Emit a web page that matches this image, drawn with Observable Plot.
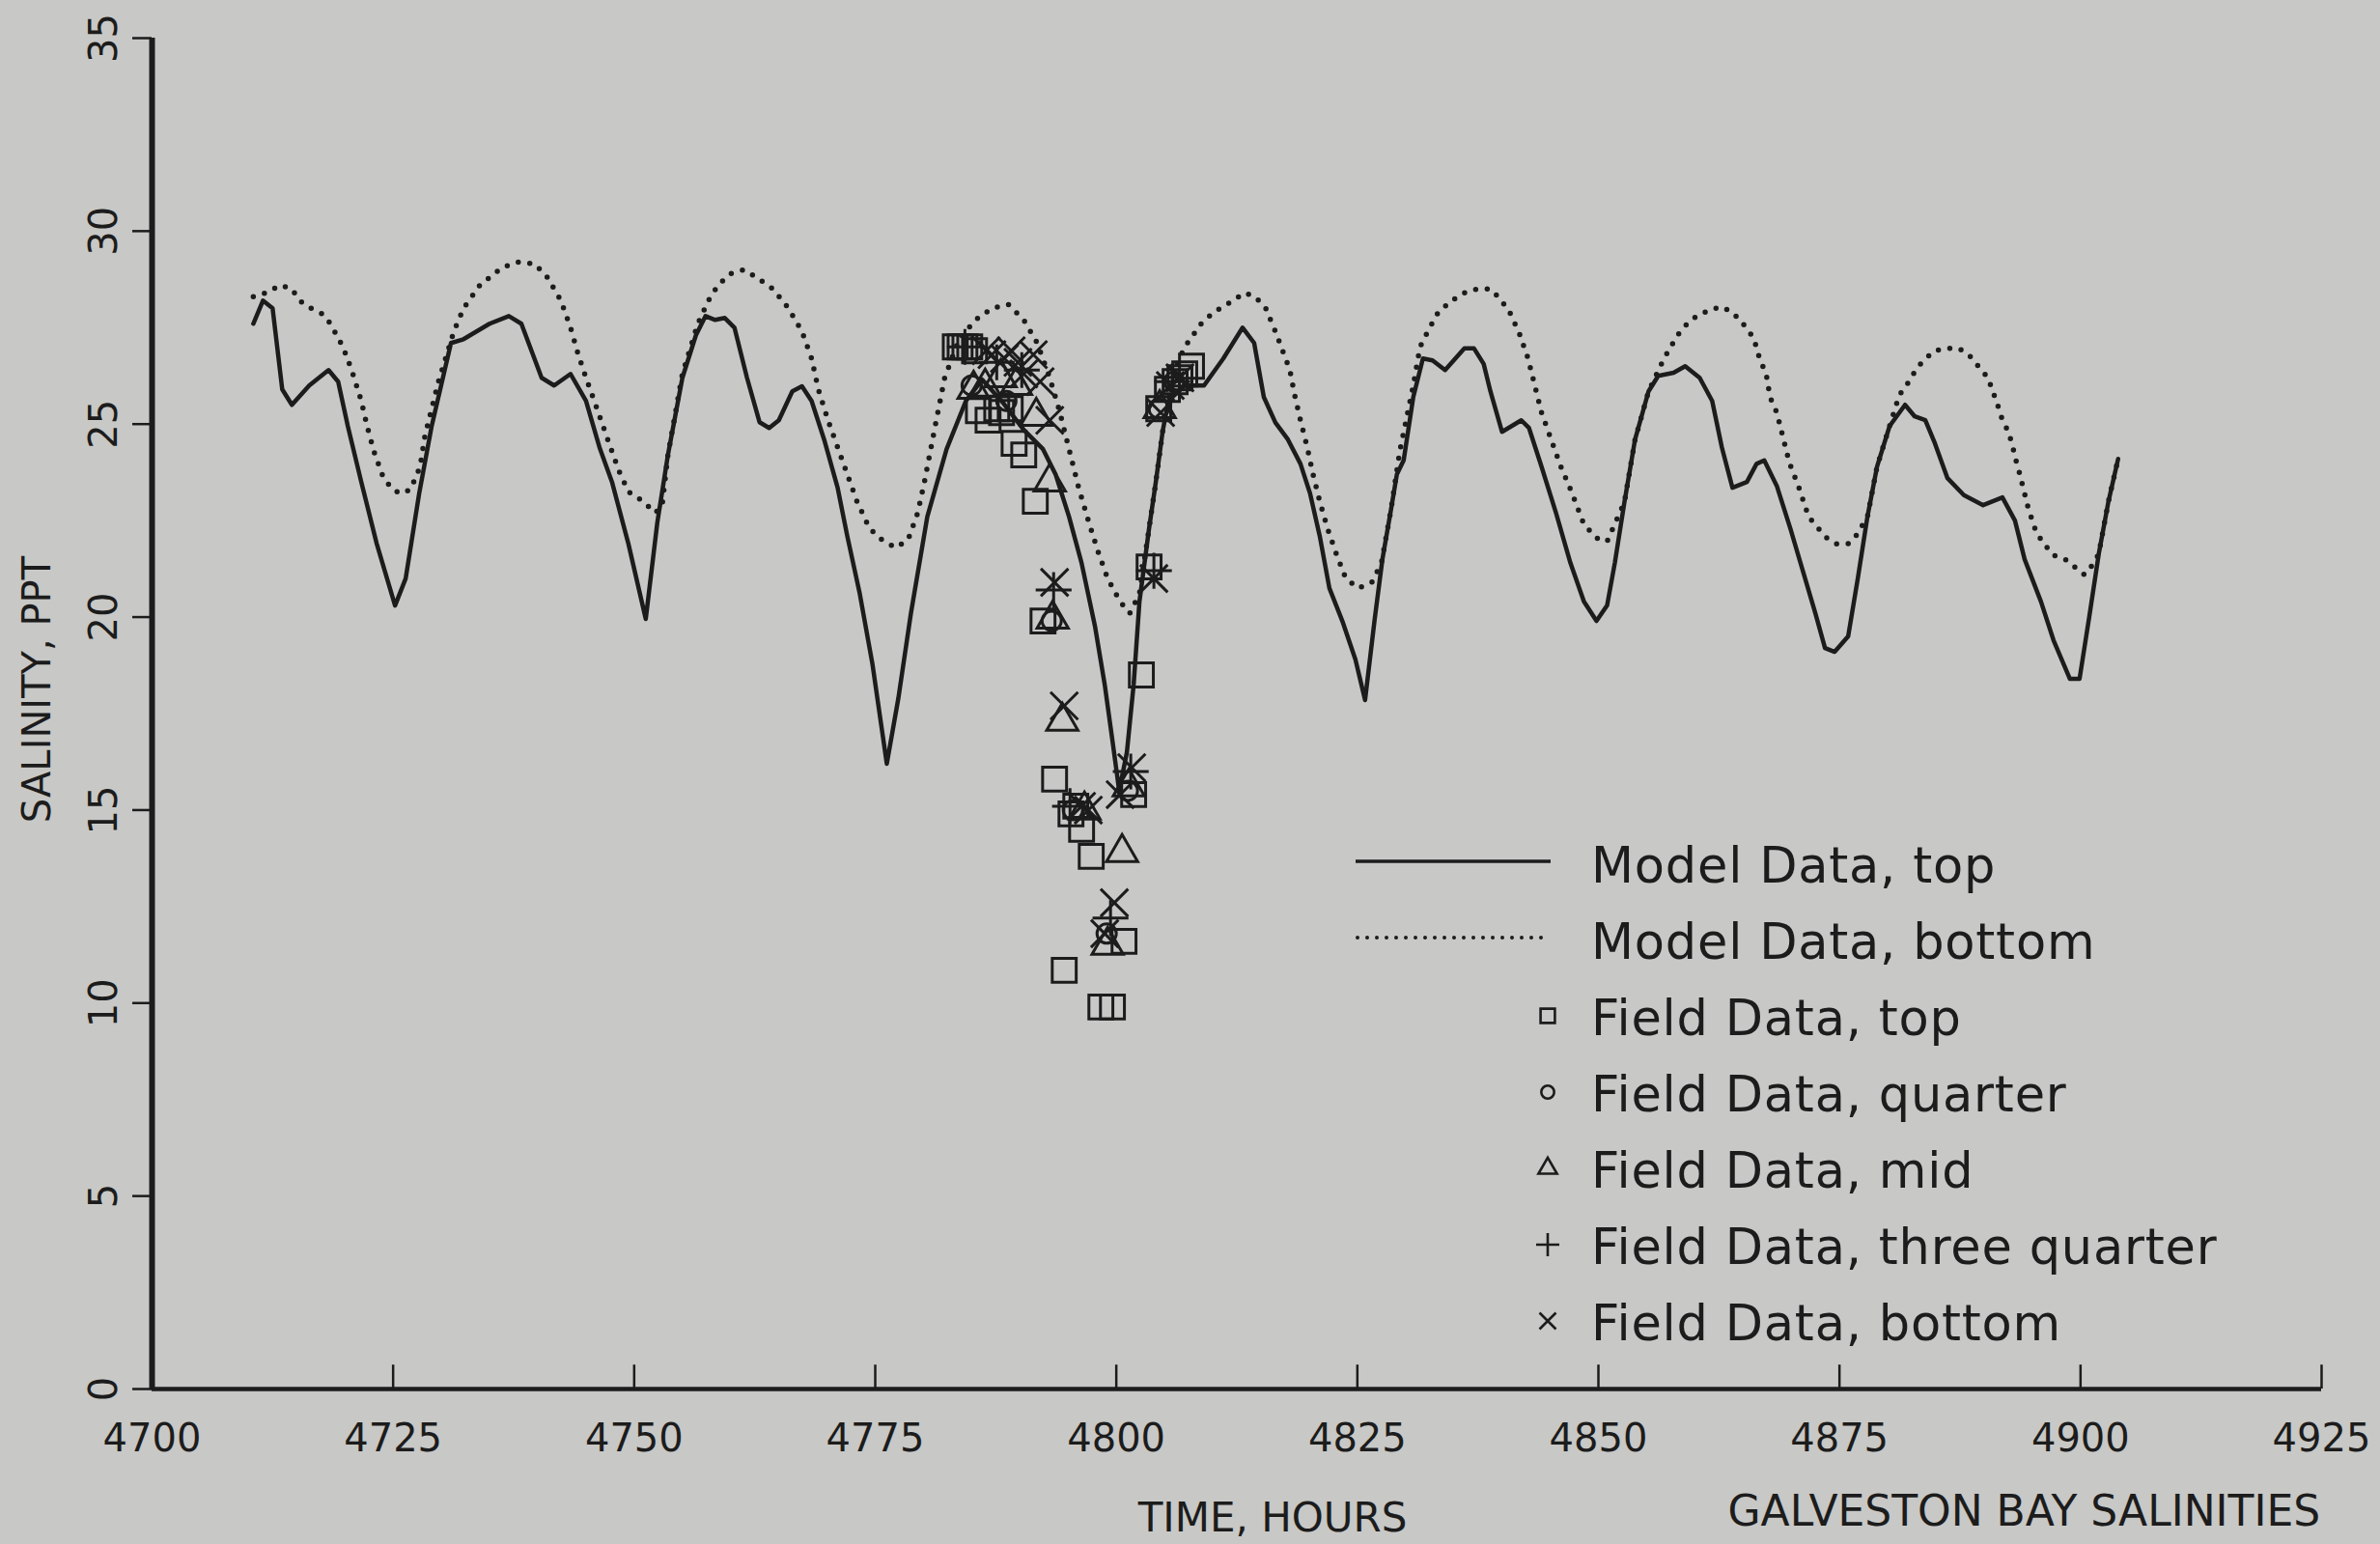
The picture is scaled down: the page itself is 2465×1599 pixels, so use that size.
<!DOCTYPE html>
<html>
<head>
<meta charset="utf-8">
<script src="https://cdn.jsdelivr.net/npm/d3@7"></script>
<script src="https://cdn.jsdelivr.net/npm/@observablehq/plot@0.6"></script>
<style>
  html, body { margin: 0; padding: 0; background: #c8c8c6; overflow: hidden; width: 2465px; height: 1599px; }
  #wrap { position: relative; width: 2465px; height: 1599px; }
  #wrap svg { position: absolute; left: 0; top: 0; }
</style>
</head>
<body>
<div id="wrap"></div>
<script>
// ---------------- DATA ----------------
const xTicks = [4700, 4725, 4750, 4775, 4800, 4825, 4850, 4875, 4900, 4925];
const yTicks = [0, 5, 10, 15, 20, 25, 30, 35];

const modelTopHours = [4710.5,4711.5,4712.5,4713.5,4714.5,4716.3,4718.3,4719.3,4720.3,4721.7,4723.3,4725.2,4726.3,4727.7,4729.0,4731.0,4732.3,4735.0,4737.0,4738.3,4740.4,4741.7,4743.4,4745.0,4746.4,4747.7,4749.4,4751.2,4752.4,4753.5,4755.0,4756.4,4757.4,4758.4,4759.4,4760.4,4761.7,4763.0,4764.0,4765.0,4766.4,4767.4,4768.4,4769.7,4771.1,4772.1,4773.4,4774.7,4776.2,4777.4,4778.7,4780.4,4782.4,4784.4,4786.1,4788.1,4790.4,4792.4,4793.7,4795.1,4796.4,4797.8,4798.8,4799.6,4800.3,4801.1,4801.8,4802.4,4803.4,4804.1,4804.8,4805.4,4807.1,4809.1,4811.1,4813.1,4814.3,4815.3,4816.5,4817.8,4819.1,4820.1,4821.1,4822.1,4823.5,4824.8,4825.8,4826.8,4827.6,4828.5,4829.1,4829.8,4830.8,4831.8,4832.8,4834.1,4836.1,4837.1,4838.1,4838.8,4840.0,4842.0,4842.8,4844.1,4845.6,4847.1,4848.5,4849.8,4850.9,4851.7,4852.7,4853.8,4855.2,4856.2,4857.8,4859.0,4860.5,4861.8,4862.8,4863.9,4865.4,4866.4,4867.2,4868.5,4869.9,4871.2,4872.5,4873.5,4874.5,4875.9,4876.9,4877.9,4878.9,4880.2,4881.8,4882.8,4883.9,4884.9,4886.2,4887.9,4889.9,4891.9,4893.2,4894.2,4895.9,4897.2,4898.9,4899.9,4900.9,4901.9,4902.9,4903.9];
const modelTopSalinity = [27.6,28.2,28.0,25.9,25.5,26.0,26.4,26.1,24.95,23.5,21.9,20.3,21.0,23.2,24.95,27.1,27.2,27.6,27.8,27.6,26.2,26.0,26.3,25.6,24.4,23.5,21.9,19.95,22.45,24.2,26.2,27.3,27.8,27.7,27.75,27.5,26.2,25.05,24.9,25.1,25.85,25.98,25.6,24.6,23.35,22.1,20.6,18.8,16.2,17.9,20.1,22.6,24.35,25.6,26.15,25.6,24.85,24.35,23.7,22.6,21.4,19.75,18.25,16.8,15.5,16.5,18.25,20.4,22.3,23.5,24.8,25.6,26.0,26.0,26.7,27.5,27.1,25.7,25.04,24.6,23.97,23.2,22.1,20.75,19.86,18.9,17.85,19.95,21.5,22.8,23.7,24.06,25.7,26.7,26.65,26.4,26.96,26.96,26.56,25.85,24.8,25.1,24.9,23.9,22.7,21.4,20.4,19.9,20.3,21.4,22.98,24.6,25.85,26.25,26.33,26.5,26.2,25.6,24.4,23.35,23.5,23.97,24.06,23.4,22.3,21.2,20.1,19.2,19.1,19.5,21.0,22.6,23.9,24.95,25.5,25.2,25.1,24.5,23.6,23.16,22.9,23.1,22.5,21.5,20.4,19.4,18.4,18.4,20.0,21.65,23.0,24.1];

const modelBottomHours = [4710.5,4711.8,4713.3,4714.5,4715.3,4716.5,4717.7,4718.5,4719.8,4720.7,4721.7,4722.3,4723.0,4724.0,4725.0,4725.8,4726.8,4727.8,4728.3,4729.7,4731.3,4732.3,4734.0,4736.3,4738.0,4739.7,4741.0,4742.4,4743.4,4744.2,4745.0,4746.0,4747.4,4748.4,4749.4,4750.9,4752.2,4752.9,4753.5,4755.0,4756.6,4757.7,4758.7,4760.0,4761.4,4762.7,4764.4,4766.0,4767.4,4768.4,4769.1,4770.1,4771.1,4772.1,4773.1,4774.4,4775.7,4777.1,4778.4,4779.4,4780.1,4781.1,4782.2,4783.7,4785.4,4787.1,4788.8,4790.4,4791.8,4793.1,4794.1,4795.1,4796.1,4797.1,4798.1,4799.1,4800.4,4801.4,4802.4,4803.4,4804.1,4804.8,4805.4,4806.2,4807.1,4808.8,4810.1,4810.8,4812.1,4813.3,4814.4,4815.5,4816.5,4817.1,4818.0,4818.5,4819.1,4819.8,4820.4,4821.1,4821.9,4822.8,4823.8,4825.1,4826.5,4827.5,4828.5,4829.4,4830.8,4831.5,4832.4,4833.4,4834.8,4836.1,4837.4,4838.8,4839.8,4840.8,4841.8,4842.7,4843.3,4844.1,4845.1,4846.1,4847.2,4848.5,4849.8,4850.9,4851.5,4852.7,4853.8,4855.2,4856.8,4858.2,4859.2,4860.2,4861.5,4862.7,4863.9,4865.0,4865.9,4866.4,4866.7,4867.4,4867.8,4868.5,4869.2,4869.8,4870.8,4871.8,4872.8,4873.7,4874.7,4875.9,4876.7,4877.9,4878.9,4880.2,4881.2,4882.2,4882.9,4883.7,4884.9,4886.2,4887.4,4888.4,4889.4,4890.4,4890.9,4891.4,4891.9,4892.4,4892.9,4893.2,4893.6,4894.2,4894.6,4895.4,4896.2,4897.2,4898.4,4899.4,4900.4,4901.4,4901.9,4902.9,4903.9];
const modelBottomSalinity = [28.3,28.4,28.6,28.5,28.2,28.0,27.85,27.6,27.0,26.4,25.6,24.95,24.3,23.6,23.3,23.2,23.3,23.9,24.7,26.1,27.4,28.0,28.6,29.06,29.2,29.15,28.8,28.2,27.5,26.8,26.2,25.5,24.5,23.8,23.25,23.0,22.7,22.9,24.2,26.3,27.6,28.2,28.6,28.9,29.0,28.8,28.5,28.0,27.4,26.7,25.9,25.1,24.4,23.7,23.0,22.3,22.0,21.8,22.0,22.7,23.5,24.8,26.2,27.2,27.7,28.0,28.1,27.7,27.1,26.2,25.35,24.35,23.35,22.5,21.7,21.0,20.4,20.1,20.6,22.3,23.5,24.8,25.6,26.5,27.0,27.6,27.9,28.0,28.2,28.4,28.3,28.0,27.4,27.0,26.4,25.75,25.1,24.4,23.7,23.0,22.3,21.65,21.0,20.75,20.9,21.4,22.8,24.3,26.0,27.0,27.45,27.9,28.2,28.4,28.5,28.5,28.25,27.9,27.35,26.7,26.1,25.3,24.6,23.9,23.25,22.4,22.05,21.96,22.3,22.98,24.6,25.85,26.7,27.3,27.6,27.8,27.95,28.04,27.9,27.6,27.3,27.0,26.7,26.3,25.7,25.3,24.6,24.0,23.35,22.6,22.3,22.05,21.9,21.9,22.1,22.6,23.9,24.95,25.75,26.1,26.4,26.65,26.9,26.96,26.96,26.8,26.5,26.2,25.85,25.5,25.1,24.86,24.5,24.15,23.8,23.2,22.8,22.2,21.9,21.6,21.5,21.3,21.1,21.4,21.65,23.0,24.1];

const fieldTopHours = [4783.3,4783.8,4784.3,4784.8,4785.3,4785.7,4786.7,4787.6,4788.1,4789.0,4789.4,4790.4,4791.6,4792.4,4793.6,4794.6,4795.3,4795.8,4796.4,4797.4,4798.4,4799.6,4800.8,4801.8,4802.6,4803.4,4804.4,4805.3,4806.1,4806.6,4807.1,4807.8];
const fieldTopSalinity = [27.0,27.0,27.0,27.0,26.9,25.35,25.1,25.4,25.3,25.4,24.5,24.2,23.0,19.9,15.8,10.85,14.9,15.1,14.5,13.8,9.9,9.9,11.6,15.4,18.5,21.3,25.4,25.9,26.1,26.2,26.3,26.5];

const fieldQuarterHours = [4785.0,4788.6,4793.3,4795.5,4799.0,4801.2,4804.4,4806.0];
const fieldQuarterSalinity = [26.0,25.6,19.9,15.0,11.8,15.5,25.4,26.1];

const fieldMidHours = [4785.2,4786.4,4788.0,4789.6,4791.7,4793.1,4793.4,4794.4,4796.7,4799.1,4800.6,4801.3,4804.5];
const fieldMidSalinity = [25.9,25.96,26.2,26.0,25.2,23.5,19.95,17.3,15.0,11.5,13.9,15.6,25.4];

const fieldThreeQuarterHours = [4784.3,4787.6,4790.2,4793.5,4795.2,4799.4,4801.5,4803.9,4805.8];
const fieldThreeQuarterSalinity = [27.0,26.6,26.4,20.7,15.1,12.2,16.0,21.2,26.1];

const fieldBottomHours = [4786.5,4787.1,4788.4,4789.1,4789.8,4790.4,4791.4,4792.1,4793.1,4793.6,4794.6,4796.4,4797.1,4798.8,4799.8,4800.4,4801.6,4803.9,4804.6,4805.6,4806.6];
const fieldBottomSalinity = [26.9,26.8,26.7,26.9,26.6,26.3,26.8,26.1,25.1,20.9,17.7,15.1,15.0,11.8,12.6,15.4,16.1,21.0,25.3,26.0,26.2];

const legendLabels = ["Model Data, top", "Model Data, bottom", "Field Data, top", "Field Data, quarter", "Field Data, mid", "Field Data, three quarter", "Field Data, bottom"];

// ---------------- BUILD ----------------
const zip = (hs, vs) => hs.map((h, i) => ({hour: h, salinity: vs[i]}));
const modelTop = zip(modelTopHours, modelTopSalinity);
const modelBottom = zip(modelBottomHours, modelBottomSalinity);
const fieldTop = zip(fieldTopHours, fieldTopSalinity);
const fieldQuarter = zip(fieldQuarterHours, fieldQuarterSalinity);
const fieldMid = zip(fieldMidHours, fieldMidSalinity);
const fieldThreeQuarter = zip(fieldThreeQuarterHours, fieldThreeQuarterSalinity);
const fieldBottom = zip(fieldBottomHours, fieldBottomSalinity);

const ink = "#1c1c1c";
const xTickLength = 0.62; // salinity units (inner tick on x axis)
const dotOpts = {x: "hour", y: "salinity", fill: "none", stroke: ink, strokeWidth: 3};

const chart = Plot.plot({
  width: 2465, height: 1599,
  marginLeft: 157, marginRight: 61, marginTop: 39, marginBottom: 161,
  style: {background: "transparent", color: ink, fontFamily: "'DejaVu Sans', sans-serif"},
  x: {domain: [4700, 4925]},
  y: {domain: [0, 35]},
  marks: [
    Plot.axisY({ticks: yTicks, tickSize: 20, tickPadding: 17, tickRotate: -90, fontSize: 40, label: null, strokeWidth: 2.5, tickFormat: d => String(d)}),
    Plot.axisX({ticks: xTicks, tickSize: 0, tickPadding: 36, fontSize: 40, label: null, tickFormat: d => String(d)}),
    Plot.ruleX(xTicks.slice(1), {y1: 0, y2: xTickLength, stroke: ink, strokeWidth: 2.5}),
    Plot.ruleX([4700], {y1: 0, y2: 35, stroke: ink, strokeWidth: 6}),
    Plot.ruleY([0], {x1: 4700, x2: 4925, stroke: ink, strokeWidth: 4.5}),
    Plot.line(modelBottom, {x: "hour", y: "salinity", stroke: ink, strokeWidth: 5.5, strokeDasharray: "0 12", strokeLinecap: "round"}),
    Plot.line(modelTop, {x: "hour", y: "salinity", stroke: ink, strokeWidth: 4.5, strokeLinejoin: "round"}),
    Plot.dot(fieldTop, {...dotOpts, symbol: "square", r: 14}),
    Plot.dot(fieldQuarter, {...dotOpts, symbol: "circle", r: 10}),
    Plot.dot(fieldMid, {...dotOpts, symbol: "triangle", r: 12}),
    Plot.dot(fieldThreeQuarter, {...dotOpts, symbol: "plus", r: 12}),
    Plot.dot(fieldBottom, {...dotOpts, symbol: "times", r: 13}),
    Plot.text(["SALINITY, PPT"], {frameAnchor: "left", rotate: -90, textAnchor: "middle", dx: -118, dy: -25, fontSize: 40, letterSpacing: 3, fill: ink}),
    Plot.text(["TIME, HOURS"], {frameAnchor: "bottom", dx: 37, dy: 118, lineAnchor: "top", fontSize: 42, fill: ink}),
    Plot.text(["GALVESTON BAY SALINITIES"], {frameAnchor: "bottom-left", dx: 1632, dy: 110, lineAnchor: "top", textAnchor: "start", fontSize: 44, fill: ink})
  ]
});
document.getElementById("wrap").appendChild(chart);

// ---------------- LEGEND (overlay) ----------------
const leg = d3.select("#wrap").append("svg")
  .attr("width", 2465).attr("height", 1599)
  .style("font-family", "'DejaVu Sans', sans-serif");
const legX = 1648, legBase0 = 914, legStep = 79;
legendLabels.forEach((label, i) => {
  const yb = legBase0 + i * legStep;
  const yc = yb - 20;
  leg.append("text").attr("x", legX).attr("y", yb).attr("font-size", 51)
    .attr("letter-spacing", 0.8).attr("fill", ink).text(label);
  if (i === 0) {
    leg.append("line").attr("x1", 1404).attr("x2", 1606).attr("y1", yc - 2).attr("y2", yc - 2)
      .attr("stroke", ink).attr("stroke-width", 3.5);
  } else if (i === 1) {
    leg.append("line").attr("x1", 1406).attr("x2", 1606).attr("y1", yc - 2).attr("y2", yc - 2)
      .attr("stroke", ink).attr("stroke-width", 4).attr("stroke-dasharray", "0 10").attr("stroke-linecap", "round");
  } else {
    const types = [null, null, d3.symbolSquare, d3.symbolCircle, d3.symbolTriangle, d3.symbolPlus, d3.symbolTimes];
    const sizes = [0, 0, 220, 140, 160, 190, 190];
    const sym = d3.symbol().type(types[i]).size(sizes[i]);
    leg.append("path").attr("d", sym()).attr("transform", `translate(1603,${yc})`)
      .attr("fill", "none").attr("stroke", ink).attr("stroke-width", 2.6);
  }
});
</script>
</body>
</html>
